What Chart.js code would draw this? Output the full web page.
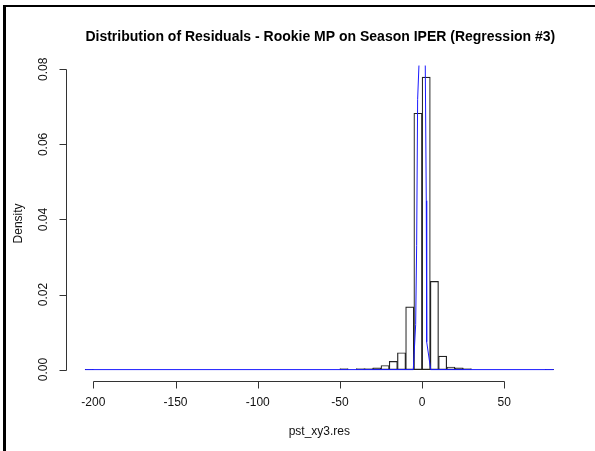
<!DOCTYPE html>
<html>
<head>
<meta charset="utf-8">
<title>Residuals histogram</title>
<script src="https://cdn.jsdelivr.net/npm/chart.js@4.4.1/dist/chart.umd.min.js"></script>
<style>
  html, body { margin: 0; padding: 0; background: #fff; }
  #wrap { position: relative; width: 595px; height: 451px; overflow: hidden; }
  #frame {
    position: absolute; left: 3px; top: 5px; right: 0; bottom: 0;
    border-left: 3px solid #000; border-top: 2px solid #000;
    pointer-events: none;
  }
</style>
</head>
<body>
<div id="wrap">
  <canvas id="hist" width="595" height="451"></canvas>
  <div id="frame"></div>
</div>
<script>
// histogram of residuals, 5-wide bins (left edges + density)
const binWidth = 5;
const binStarts = [-205, -50, -40, -35, -30, -25, -20, -15, -10, -5, 0, 5, 10, 15, 20, 25, 75];
const densities = [0.00004, 0.0003, 0.0003, 0.0003, 0.0005, 0.0011, 0.0022, 0.0045, 0.0167,
                   0.0683, 0.0779, 0.0235, 0.0036, 0.0007, 0.0005, 0.0003, 0.00004];

// overlaid density curve (blue)
const curveX = [-205, -5.35, -3.9, -3.3, -2.7, -1.9, -0.2, 1.95, 2.55, 2.8, 5.25, 80];
const curveY = [0, 0, 0.012, 0.033, 0.072, 0.081, 0.2, 0.081, 0.045, 0.0074, 0, 0];

const xTicks = [-200, -150, -100, -50, 0, 50];
const yTicks = [0.00, 0.02, 0.04, 0.06, 0.08];

const mainTitle = "Distribution of Residuals - Rookie MP on Season IPER (Regression #3)";
const xLabel = "pst_xy3.res";
const yLabel = "Density";

// plot limits like R: data range padded by 4% each side
const xLim = [binStarts[0], binStarts[binStarts.length - 1] + binWidth];
const yLim = [0, Math.max(...densities)];
const pad = (lim) => { const d = (lim[1] - lim[0]) * 0.04; return [lim[0] - d, lim[1] + d]; };
const xUsr = pad(xLim);
const yUsr = pad(yLim);

const FONT = "'Liberation Sans', Arial, sans-serif";

const baseAxes = {
  id: "baseAxes",
  afterDraw(chart) {
    const { ctx, chartArea: area, scales: { x, y } } = chart;
    ctx.save();
    ctx.strokeStyle = "#333";
    ctx.lineWidth = 1;
    ctx.fillStyle = "#111";

    // x axis, drawn only between first and last tick
    const ay = Math.round(area.bottom) + 0.5;
    ctx.beginPath();
    ctx.moveTo(Math.round(x.getPixelForValue(xTicks[0])) + 0.5, ay);
    ctx.lineTo(Math.round(x.getPixelForValue(xTicks[xTicks.length - 1])) + 0.5, ay);
    xTicks.forEach((v) => {
      const px = Math.round(x.getPixelForValue(v)) + 0.5;
      ctx.moveTo(px, ay);
      ctx.lineTo(px, ay + 7);
    });
    ctx.stroke();

    ctx.font = "12px " + FONT;
    ctx.textAlign = "center";
    ctx.textBaseline = "middle";
    xTicks.forEach((v) => ctx.fillText(String(v), x.getPixelForValue(v), ay + 21));
    ctx.fillText(xLabel, (area.left + area.right) / 2, ay + 50);

    // y axis
    const ax = Math.round(area.left) + 0.5;
    ctx.beginPath();
    ctx.moveTo(ax, Math.round(y.getPixelForValue(yTicks[0])) + 0.5);
    ctx.lineTo(ax, Math.round(y.getPixelForValue(yTicks[yTicks.length - 1])) + 0.5);
    yTicks.forEach((v) => {
      const py = Math.round(y.getPixelForValue(v)) + 0.5;
      ctx.moveTo(ax, py);
      ctx.lineTo(ax - 7, py);
    });
    ctx.stroke();

    yTicks.forEach((v) => {
      ctx.save();
      ctx.translate(ax - 23, y.getPixelForValue(v));
      ctx.rotate(-Math.PI / 2);
      ctx.fillText(v.toFixed(2), 0, 0);
      ctx.restore();
    });
    ctx.save();
    ctx.translate(ax - 48, (area.top + area.bottom) / 2);
    ctx.rotate(-Math.PI / 2);
    ctx.fillText(yLabel, 0, 0);
    ctx.restore();

    // main title
    ctx.fillStyle = "#000";
    ctx.font = "bold 14px " + FONT;
    ctx.fillText(mainTitle, (area.left + area.right) / 2 + 1, 37.5);
    ctx.restore();
  },
};

new Chart(document.getElementById("hist"), {
  type: "bar",
  data: {
    datasets: [
      {
        type: "line",
        data: curveX.map((v, i) => ({ x: v, y: curveY[i] })),
        borderColor: "#1a1aff",
        borderWidth: 1,
        pointRadius: 0,
        tension: 0,
        fill: false,
        order: 0,
      },
      {
        type: "bar",
        data: binStarts.map((s, i) => ({ x: s + binWidth / 2, y: densities[i] })),
        backgroundColor: "rgba(0,0,0,0)",
        borderColor: "#222",
        borderWidth: 0.55,
        borderSkipped: false,
        barPercentage: 1,
        categoryPercentage: 1,
        order: 1,
      },
    ],
  },
  options: {
    responsive: false,
    animation: false,
    events: [],
    layout: { padding: { left: 66.4, top: 65.5, right: 22.7, bottom: 69.7 } },
    scales: {
      x: { type: "linear", min: xUsr[0], max: xUsr[1], offset: false, display: false },
      y: { type: "linear", min: yUsr[0], max: yUsr[1], display: false },
    },
    plugins: {
      legend: { display: false },
      tooltip: { enabled: false },
    },
  },
  plugins: [baseAxes],
});
</script>
</body>
</html>
